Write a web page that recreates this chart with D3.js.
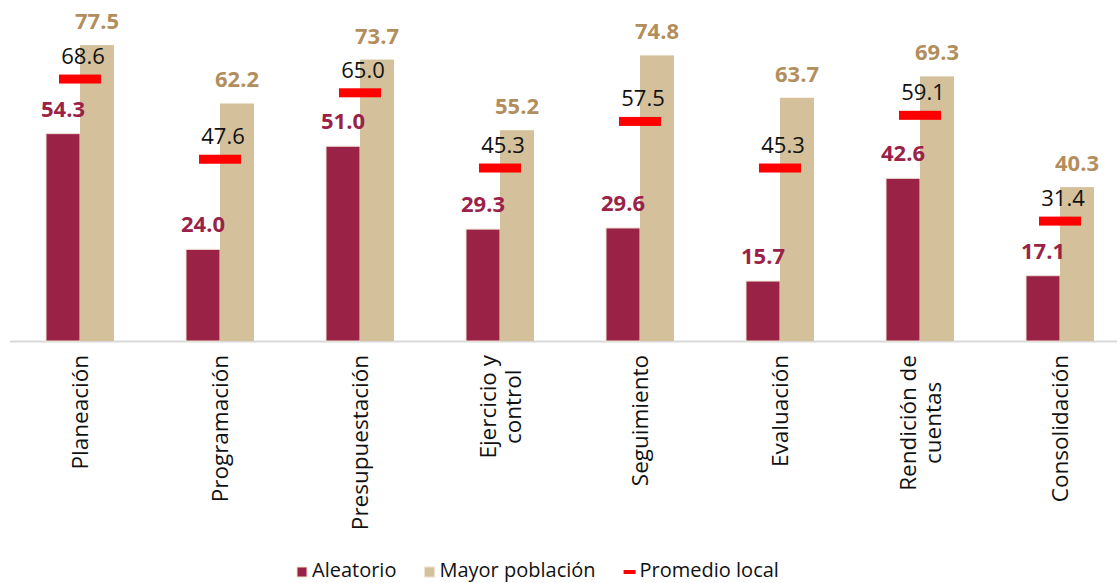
<!DOCTYPE html>
<html>
<head>
<meta charset="utf-8">
<script src="https://cdn.jsdelivr.net/npm/d3@7"></script>
<style>
  body { margin: 0; background: #fff; }
  svg { display: block; font-family: 'Open Sans', sans-serif; }
</style>
</head>
<body>
<div class="canvas"></div>
<script>
// Data
const categories = ['Planeación', 'Programación', 'Presupuestación', 'Ejercicio y\ncontrol',
  'Seguimiento', 'Evaluación', 'Rendición de\ncuentas', 'Consolidación']
const aleatorio = [54.3, 24.0, 51.0, 29.3, 29.6, 15.7, 42.6, 17.1]
const mayorPoblacion = [77.5, 62.2, 73.7, 55.2, 74.8, 63.7, 69.3, 40.3]
const promedioLocal = [68.6, 47.6, 65.0, 45.3, 57.5, 45.3, 59.1, 31.4]
const seriesNames = ['Aleatorio', 'Mayor población', 'Promedio local']

const colors = { aleatorio: '#9B2247', mayor: '#D4C19C', mayorText: '#B38E5D', promedio: '#FF0000' }
const dims = { width: 1117, height: 583, baseline: 341 }

const svg = d3.select('.canvas')
  .append('svg')
    .attr('width', dims.width)
    .attr('height', dims.height)

const x = d3.scaleBand()
  .domain(categories)
  .range([10, 1130])

const xSub = d3.scaleBand()
  .domain(['aleatorio', 'mayor'])
  .range([x.bandwidth() / 2 - 34, x.bandwidth() / 2 + 34])

const y = d3.scaleLinear()
  .domain([0, 89.3])
  .range([dims.baseline, 0])

const rows = categories.map((c, i) => ({
  name: c, aleatorio: aleatorio[i], mayor: mayorPoblacion[i], promedio: promedioLocal[i]
}))

// baseline
svg.append('line')
  .attr('x1', 10).attr('x2', dims.width)
  .attr('y1', y(0) + 0.5).attr('y2', y(0) + 0.5)
  .attr('stroke', '#D9D9D9').attr('stroke-width', 2)

const groups = svg.selectAll('g.cat')
  .data(rows)
  .enter()
  .append('g')
    .attr('class', 'cat')
    .attr('transform', d => `translate(${x(d.name)}, 0)`)

// bars
groups.append('rect')
  .attr('x', xSub('aleatorio'))
  .attr('width', xSub.bandwidth())
  .attr('y', d => y(d.aleatorio))
  .attr('height', d => y(0) - y(d.aleatorio))
  .attr('fill', colors.aleatorio)
  .attr('stroke', '#EDE3D0').attr('stroke-width', 1)

groups.append('rect')
  .attr('x', xSub('mayor'))
  .attr('width', xSub.bandwidth())
  .attr('y', d => y(d.mayor))
  .attr('height', d => y(0) - y(d.mayor))
  .attr('fill', colors.mayor)

// promedio dash
groups.append('rect')
  .attr('x', x.bandwidth() / 2 - 21)
  .attr('width', 42)
  .attr('y', d => y(d.promedio) - 4.5)
  .attr('height', 9)
  .attr('fill', colors.promedio)

// value labels
groups.append('text')
  .attr('x', xSub('aleatorio') + xSub.bandwidth() / 2)
  .attr('y', d => y(d.aleatorio) - 17)
  .attr('text-anchor', 'middle')
  .attr('font-size', 22).attr('font-weight', 700)
  .attr('fill', colors.aleatorio)
  .text(d => d.aleatorio.toFixed(1))

groups.append('text')
  .attr('x', xSub('mayor') + xSub.bandwidth() / 2)
  .attr('y', d => y(d.mayor) - 16)
  .attr('text-anchor', 'middle')
  .attr('font-size', 22).attr('font-weight', 700)
  .attr('fill', colors.mayorText)
  .text(d => d.mayor.toFixed(1))

groups.append('text')
  .attr('x', x.bandwidth() / 2 + 3)
  .attr('y', d => y(d.promedio) - 15)
  .attr('text-anchor', 'middle')
  .attr('font-size', 22)
  .attr('fill', '#111')
  .text(d => d.promedio.toFixed(1))

// category labels, rotated
const catLabels = groups.append('g')
  .attr('transform', `translate(${x.bandwidth() / 2}, 355) rotate(-90)`)
  .attr('font-size', 22.5)
  .attr('fill', '#111')

catLabels.each(function(d) {
  const lines = d.name.split('\n')
  const g = d3.select(this)
  const texts = g.selectAll('text')
    .data(lines)
    .enter()
    .append('text')
      .attr('text-anchor', 'middle')
      .attr('y', (l, i) => 8 + (i - (lines.length - 1) / 2) * 25)
      .text(l => l)
  const longest = d3.max(texts.nodes(), n => n.getComputedTextLength())
  texts.attr('x', -longest / 2)
})

// Legend
const legend = svg.append('g')
  .attr('transform', 'translate(297, 571)')
  .attr('font-size', 20)

let cursor = 0
seriesNames.forEach((name, i) => {
  const item = legend.append('g').attr('transform', `translate(${cursor}, 0)`)
  if (i < 2) {
    item.append('rect')
      .attr('x', 0).attr('y', -4).attr('width', 10).attr('height', 10)
      .attr('fill', i === 0 ? colors.aleatorio : colors.mayor)
      .attr('stroke', '#EDE3D0').attr('stroke-width', 1)
  } else {
    item.append('rect')
      .attr('x', 0).attr('y', -1).attr('width', 12).attr('height', 4)
      .attr('fill', colors.promedio)
  }
  const label = item.append('text')
    .attr('x', i < 2 ? 15 : 16)
    .attr('y', 6)
    .attr('fill', '#111')
    .text(name)
  cursor += (i < 2 ? 15 : 16) + label.node().getComputedTextLength() + 28
})
</script>
</body>
</html>
